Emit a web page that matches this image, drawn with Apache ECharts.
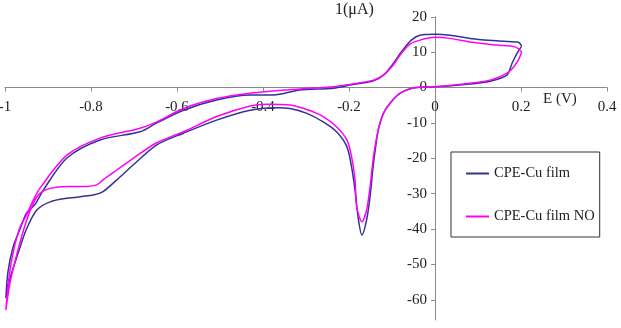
<!DOCTYPE html>
<html>
<head>
<meta charset="utf-8">
<script src="https://cdn.jsdelivr.net/npm/echarts@6/dist/echarts.min.js"></script>
<style>html,body{margin:0;padding:0;background:#fff}#c{width:621px;height:328px}</style>
</head>
<body>
<div id="c"></div>
<script>
// Potential (V) and current (µA) for each cyclic voltammogram, loop starting at +0.2 V
const seriesNames = ['CPE-Cu film', 'CPE-Cu film NO'];
const blueE = [0.2016,0.191,0.179,0.167,0.128,0.081,0,-0.043,-0.081,-0.105,-0.120,-0.132,-0.143,-0.151,-0.159,-0.170,-0.178,-0.186,-0.194,-0.205,-0.229,-0.260,-0.298,-0.337,-0.368,-0.430,-0.508,-0.585,-0.647,-0.702,-0.740,-0.772,-0.795,-0.856,-0.895,-0.926,-0.950,-0.970,-0.991,-0.998,
  -0.993,-0.981,-0.965,-0.950,-0.930,-0.911,-0.856,-0.779,-0.686,-0.647,-0.585,-0.508,-0.430,-0.376,-0.314,-0.236,-0.198,-0.143,-0.120,-0.097,-0.078,-0.055,-0.035,0,0.035,0.081,0.143,0.186,0.194,0.2016];
const blueI = [11.7,9.7,6.8,3.5,1.8,1.0,0.2,0,-1.6,-4.5,-7.3,-12,-21.4,-30.8,-37.4,-41.7,-37.4,-29,-22.4,-16.7,-12.5,-9.7,-7.3,-5.9,-5.7,-6.4,-9.2,-12.9,-16.2,-21.9,-26.1,-29.4,-30.4,-31.3,-32.3,-34.6,-40,-47,-55,-59.5,
  -52,-45,-40,-35.5,-33,-29,-19.9,-14.8,-12.5,-10,-6.4,-3.5,-2.1,-2.1,-0.7,-0.2,0.7,1.9,3.5,6.8,10.1,13.4,14.8,15.1,14.8,13.9,13.2,12.9,12.8,11.7];
const magE = [0.2016,0.194,0.178,0.159,0.128,0.081,0,-0.043,-0.081,-0.105,-0.120,-0.132,-0.143,-0.151,-0.159,-0.170,-0.182,-0.186,-0.194,-0.205,-0.229,-0.260,-0.298,-0.337,-0.391,-0.430,-0.508,-0.585,-0.647,-0.702,-0.740,-0.772,-0.787,-0.818,-0.856,-0.895,-0.919,-0.934,-0.951,-0.970,-0.988,-0.998,
  -0.99,-0.98,-0.965,-0.95,-0.935,-0.919,-0.856,-0.779,-0.686,-0.647,-0.585,-0.508,-0.430,-0.314,-0.236,-0.198,-0.143,-0.120,-0.097,-0.078,-0.058,-0.035,0,0.035,0.081,0.143,0.186,0.2016];
const magI = [10.1,7.8,5.1,3.5,2.1,1.2,0.2,0,-1.6,-4.5,-7.3,-12,-19.5,-28,-34.6,-37.9,-33.7,-26.1,-19.5,-14.8,-11.1,-8.2,-6.2,-4.9,-4.7,-5.2,-8.2,-12.5,-15.6,-20,-23.3,-26.1,-27.5,-28,-28,-28.5,-29.9,-32.7,-38,-46,-55,-62.9,
  -53,-46,-39.5,-36,-32,-28.5,-19.1,-14.3,-11.5,-9.7,-5.9,-3.1,-1.6,-0.4,0.2,0.9,2.1,3.5,6.4,9.7,12.3,13.4,14.2,13.9,12.9,12.0,11.5,10.1];
const yTicks = [20,10,0,-10,-20,-30,-40,-50,-60];
const xLabel = 'E (V)';
const yLabel = '1(μA)';

const zip = (a, b) => a.map((v, i) => [v, b[i]]);
const FONT = '"Liberation Serif","Times New Roman",serif';
const W = 621, H = 328;
const G = {left: 5, right: 14, top: 16.8, bottom: 8};
const X_MIN = -1, X_MAX = 0.4, Y_MIN = -65.7, Y_MAX = 20;
// offsets so the axes cross at the origin
const gw = W - G.left - G.right, gh = H - G.top - G.bottom;
const yAxisOffset = -gw * (0 - X_MIN) / (X_MAX - X_MIN);
const xAxisOffset = -gh * (0 - Y_MIN) / (Y_MAX - Y_MIN);

const chart = echarts.init(document.getElementById('c'), null, {renderer: 'canvas'});
const lineCol = '#8a8a8a';
chart.setOption({
  animation: false,
  backgroundColor: '#fff',
  grid: Object.assign({containLabel: false, outerBoundsMode: 'none'}, G),
  xAxis: {
    type: 'value', min: X_MIN, max: X_MAX, interval: 0.2, position: 'bottom', offset: xAxisOffset,
    axisLine: {onZero: false, lineStyle: {color: lineCol, width: 1}},
    axisTick: {show: true, length: 4, lineStyle: {color: lineCol}},
    splitLine: {show: false},
    axisLabel: {margin: 12, fontFamily: FONT, fontSize: 15, color: '#222', hideOverlap: false}
  },
  yAxis: {
    type: 'value', min: Y_MIN, max: Y_MAX, position: 'left', offset: yAxisOffset,
    axisLine: {onZero: false, lineStyle: {color: lineCol, width: 1}},
    axisTick: {show: true, length: 4, lineStyle: {color: lineCol}, customValues: yTicks},
    splitLine: {show: false},
    axisLabel: {margin: 8, fontFamily: FONT, fontSize: 15, color: '#222', customValues: yTicks, hideOverlap: false}
  },
  legend: {
    orient: 'vertical', left: 451, top: 152, padding: [14, 5, 13, 15], itemGap: 28,
    icon: 'rect', itemWidth: 23, itemHeight: 2,
    borderColor: '#333', borderWidth: 1, backgroundColor: '#fff',
    textStyle: {fontFamily: FONT, fontSize: 14.5, color: '#222'},
    data: seriesNames
  },
  graphic: [
    {type: 'text', left: 335, top: 2, style: {text: yLabel, font: '16px ' + FONT, fill: '#222'}},
    {type: 'text', left: 543, top: 92, style: {text: xLabel, font: '15px ' + FONT, fill: '#222'}}
  ],
  series: [
    {name: seriesNames[0], type: 'line', data: zip(blueE, blueI), symbol: 'none', smooth: 0.3,
     lineStyle: {color: '#33338f', width: 1.5}, itemStyle: {color: '#33338f'}, clip: false},
    {name: seriesNames[1], type: 'line', data: zip(magE, magI), symbol: 'none', smooth: 0.3,
     lineStyle: {color: '#ff00ff', width: 1.5}, itemStyle: {color: '#ff00ff'}, clip: false}
  ]
});
</script>
</body>
</html>
